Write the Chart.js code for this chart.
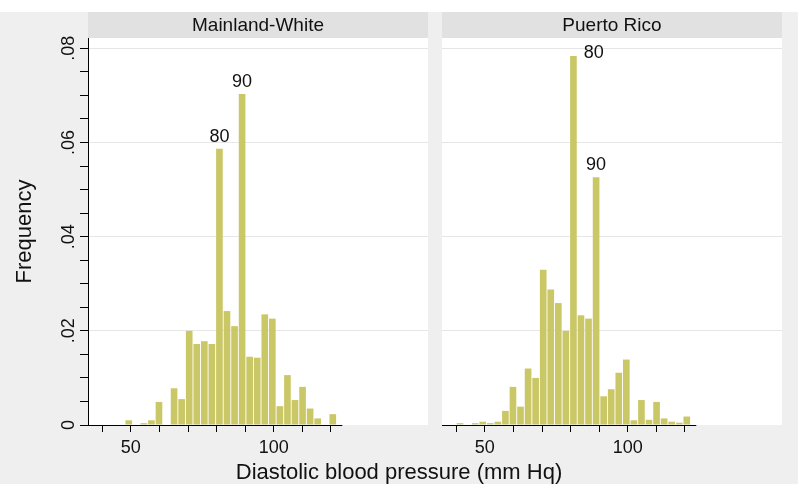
<!DOCTYPE html>
<html>
<head>
<meta charset="utf-8">
<title>Diastolic blood pressure</title>
<script src="https://cdn.jsdelivr.net/npm/chart.js@4.4.1/dist/chart.umd.min.js"></script>
<style>
    html, body { margin: 0; padding: 0; }
    body {
        width: 798px; height: 484px; position: relative; overflow: hidden;
        background: #efefef;
        font-family: "Liberation Sans", Arial, Helvetica, sans-serif;
    }
    #topband { position: absolute; left: 0; top: 0; width: 798px; height: 12px; background: #fff; }
    #leftChart { position: absolute; left: 0; top: 0; }
    #rightChart { position: absolute; left: 432px; top: 0; }
    #xtitle {
        position: absolute; left: 0; top: 461px; width: 798px;
        text-align: center; font-size: 22px; line-height: 22px; color: #111;
    }
</style>
</head>
<body>
<div id="topband"></div>
<canvas id="leftChart" width="432" height="484"></canvas>
<canvas id="rightChart" width="366" height="484"></canvas>
<div id="xtitle">Diastolic blood pressure (mm Hq)</div>

<script>
// histogram bins (common to both panels)
var binMin = 40;
var binMax = 122;
var nBins = 31;

// density per bin
var mainlandWhite = [0, 0, 0, 0.0010, 0, 0.0004, 0.0010, 0.0049, 0, 0.0078,
    0.0055, 0.0200, 0.0172, 0.0178, 0.0172, 0.0587, 0.0242, 0.0210, 0.0703, 0.0145,
    0.0143, 0.0235, 0.0226, 0.0040, 0.0106, 0.0053, 0.0081, 0.0035, 0.0014, 0, 0.0023];
var puertoRico = [0.0004, 0, 0.0004, 0.0007, 0.0004, 0.0007, 0.0030, 0.0081, 0.0039, 0.0120,
    0.0100, 0.0330, 0.0288, 0.0259, 0.0200, 0.0784, 0.0233, 0.0226, 0.0526, 0.0061,
    0.0076, 0.0111, 0.0139, 0.0010, 0.0053, 0.0011, 0.0049, 0.0014, 0.0007, 0.0005, 0.0018];

var panelTitles = ['Mainland-White', 'Puerto Rico'];

// marked values above the peaks
var leftPeaks = [80, 90];
var leftPeakPos = ['top', 'top'];
var rightPeaks = [80, 90];
var rightPeakPos = ['right', 'top'];

// axes
var xAxisMin = 35;
var xAxisMax = 154;
var xAxisLineEnd = 124;
var xTicks = [40, 50, 60, 70, 80, 90, 100, 110, 120];
var xTickLabels = ['', '50', '', '', '', '', '100', '', ''];
var yAxisMax = 0.0822;
var yMajorLabels = ['0', '.02', '.04', '.06', '.08'];
var yMinorPerMajor = 4;

var binWidth = (binMax - binMin) / nBins;
var yTicks = [];
for (var i = 0; i <= (yMajorLabels.length - 1) * yMinorPerMajor; i++) {
    yTicks.push(i * 0.02 / yMinorPerMajor);
}

var barColor = '#cac866';
var fontFamily = '"Liberation Sans", Arial, Helvetica, sans-serif';
Chart.defaults.font.family = fontFamily;
Chart.defaults.color = '#111';

function toPoints(values) {
    return values.map(function (v, i) {
        return { x: binMin + (i + 0.5) * binWidth, y: v };
    });
}

var panelPlugin = {
    id: 'panel',
    beforeDraw: function (chart) {
        var a = chart.chartArea;
        var ctx = chart.ctx;
        var opts = chart.options.plugins.panel;
        ctx.save();
        ctx.fillStyle = '#ffffff';
        ctx.fillRect(a.left, a.top, a.right - a.left, a.bottom - a.top);
        ctx.fillStyle = '#e1e1e1';
        ctx.fillRect(a.left, 12, a.right - a.left, a.top - 12);
        ctx.fillStyle = '#111';
        ctx.font = '19px ' + fontFamily;
        ctx.textAlign = 'center';
        ctx.textBaseline = 'middle';
        ctx.fillText(opts.title, (a.left + a.right) / 2, (12 + a.top) / 2 + 1);
        ctx.restore();
    },
    afterDatasetsDraw: function (chart) {
        var a = chart.chartArea;
        var ctx = chart.ctx;
        var opts = chart.options.plugins.panel;
        var xs = chart.scales.x;
        var y0 = Math.round(chart.scales.y.getPixelForValue(0)) + 0.5;
        ctx.save();
        // x axis line
        ctx.strokeStyle = '#000';
        ctx.lineWidth = 1;
        ctx.beginPath();
        ctx.moveTo(a.left, y0);
        ctx.lineTo(xs.getPixelForValue(xAxisLineEnd), y0);
        ctx.stroke();
        // peak labels
        var meta = chart.getDatasetMeta(0);
        ctx.fillStyle = '#111';
        ctx.font = '18px ' + fontFamily;
        opts.peaks.forEach(function (p, k) {
            var bar = meta.data[Math.floor((p - binMin) / binWidth)];
            if (opts.peakPos[k] === 'right') {
                ctx.textAlign = 'left';
                ctx.textBaseline = 'middle';
                ctx.fillText(String(p), bar.x + bar.width / 2 + 7, bar.y - 3);
            } else {
                ctx.textAlign = 'center';
                ctx.textBaseline = 'bottom';
                ctx.fillText(String(p), bar.x, bar.y - 3);
            }
        });
        ctx.restore();
    }
};

function makeChart(id, values, title, peaks, peakPos, showY) {
    return new Chart(document.getElementById(id), {
        type: 'bar',
        data: {
            datasets: [{
                data: toPoints(values),
                backgroundColor: barColor,
                borderWidth: 0,
                barPercentage: 0.88,
                categoryPercentage: 1
            }]
        },
        plugins: [panelPlugin],
        options: {
            responsive: false,
            animation: false,
            layout: { padding: { top: 38, bottom: 0, left: showY ? 0 : 10, right: showY ? 4 : 16 } },
            plugins: {
                legend: { display: false },
                tooltip: { enabled: false },
                panel: { title: title, peaks: peaks, peakPos: peakPos }
            },
            scales: {
                x: {
                    type: 'linear',
                    min: xAxisMin,
                    max: xAxisMax,
                    offset: false,
                    afterBuildTicks: function (s) {
                        s.ticks = xTicks.map(function (v) { return { value: v }; });
                    },
                    afterFit: function (s) { s.height = 59; },
                    border: { display: false },
                    grid: { offset: false, drawOnChartArea: false, tickLength: 7, tickColor: '#000', color: '#000' },
                    ticks: {
                        autoSkip: false, maxRotation: 0, padding: 5, color: '#111',
                        font: { size: 18 },
                        callback: function (v, i) { return xTickLabels[i]; }
                    }
                },
                y: {
                    min: 0,
                    max: yAxisMax,
                    afterBuildTicks: function (s) {
                        s.ticks = yTicks.map(function (v) { return { value: v }; });
                    },
                    afterFit: function (s) { s.width = showY ? 88 : 0; },
                    border: { display: showY, color: '#000' },
                    grid: {
                        color: function (c) {
                            return (c.index > 0 && c.index % yMinorPerMajor === 0) ? '#e6e6e6' : 'rgba(0,0,0,0)';
                        },
                        tickColor: '#000',
                        tickLength: 8,
                        drawTicks: showY
                    },
                    ticks: {
                        display: showY,
                        autoSkip: false,
                        minRotation: 90,
                        maxRotation: 90,
                        crossAlign: 'center',
                        padding: -2,
                        color: '#111',
                        font: { size: 18 },
                        callback: function (v, i) {
                            return i % yMinorPerMajor === 0 ? yMajorLabels[i / yMinorPerMajor] : '';
                        }
                    },
                    title: {
                        display: showY,
                        text: 'Frequency',
                        color: '#111',
                        font: { size: 22 },
                        padding: { top: 12, bottom: 0 }
                    }
                }
            }
        }
    });
}

var leftChart = makeChart('leftChart', mainlandWhite, panelTitles[0], leftPeaks, leftPeakPos, true);
var rightChart = makeChart('rightChart', puertoRico, panelTitles[1], rightPeaks, rightPeakPos, false);
</script>
</body>
</html>
